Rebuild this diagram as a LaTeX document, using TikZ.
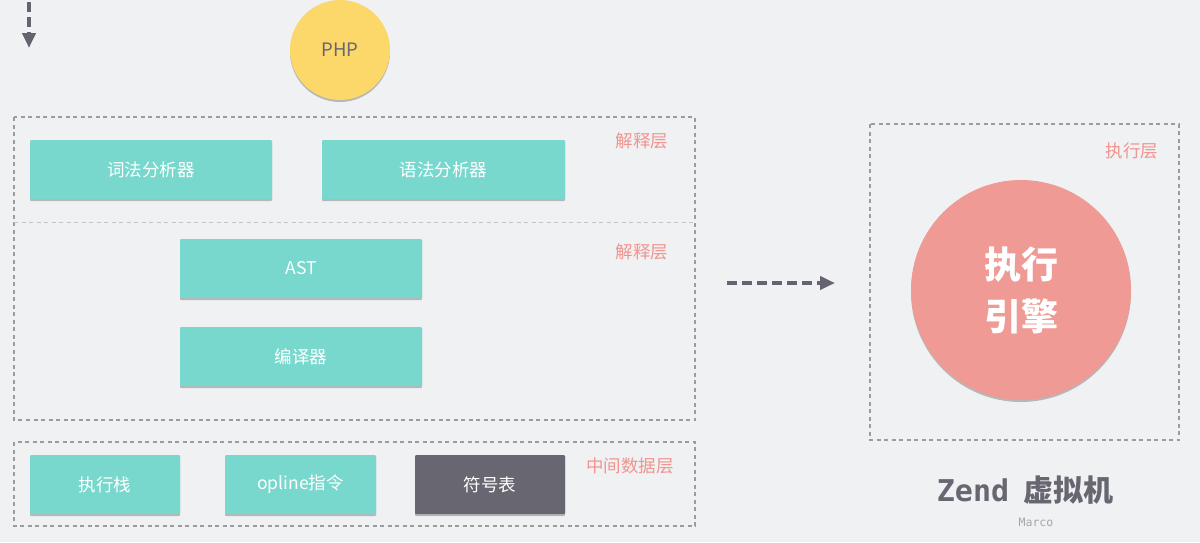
\documentclass[tikz,border=0pt]{standalone}
\usepackage{fontspec}
\setmainfont{Noto Sans CJK SC}
\newfontfamily\monofont{DejaVu Sans Mono}
\usetikzlibrary{shadows,arrows.meta}
\definecolor{bg}{HTML}{F0F1F3}
\definecolor{teal}{HTML}{78D8CD}
\definecolor{darkbox}{HTML}{686671}
\definecolor{lbl}{HTML}{F0948E}
\definecolor{phpy}{HTML}{FCD76A}
\definecolor{engine}{HTML}{EF9A94}
\definecolor{dashgray}{HTML}{9C9C9E}
\definecolor{arrowgray}{HTML}{666370}
\tikzset{
  boxbase/.style={rectangle, rounded corners=1pt, text=white, font=\fontsize{17.5}{20}\selectfont,
    drop shadow={shadow xshift=0pt, shadow yshift=-2pt, opacity=0.35, fill=black!70}},
  tealbox/.style={boxbase, fill=teal},
  darkboxst/.style={boxbase, fill=darkbox},
  layer/.style={draw=dashgray, line width=1.4pt, dash pattern=on 4pt off 3.5pt},
  layerlabel/.style={text=lbl, font=\fontsize{17.5}{20}\selectfont},
  flowarrow/.style={draw=arrowgray, line width=4.5pt, dash pattern=on 10pt off 5pt, -{Triangle[length=15pt,width=13pt]}},
}
\begin{document}
\begin{tikzpicture}[x=1pt,y=-1pt]
\fill[bg] (0,0) rectangle (1200,542);
\useasboundingbox (0,0) rectangle (1200,542);

% top-left arrow
\coordinate (ta) at (29,2);
\coordinate (tb) at (29,48);
\draw[flowarrow] (ta) -- (tb);

% PHP
\node[circle, fill=phpy, minimum size=100pt, inner sep=0pt, text=darkbox, font=\fontsize{18.5}{20}\selectfont,
  drop shadow={shadow xshift=0pt, shadow yshift=-2pt, opacity=0.35, fill=black!70}] (php) at (340,50) {PHP};

% interpret layer
\draw[layer] (14,117) rectangle (695,420);
\coordinate (sepL) at (14,222);
\coordinate (sepR) at (695,222);
\draw[draw=dashgray!60, line width=1pt, dash pattern=on 4pt off 3.5pt] (sepL) -- (sepR);
\node[layerlabel] (l1) at (642,141) {解释层};
\node[layerlabel] (l2) at (642,252) {解释层};

\node[tealbox, minimum width=242pt, minimum height=59pt] (lex) at (151,169.5) {词法分析器};
\node[tealbox, minimum width=243pt, minimum height=59pt] (syn) at (443.5,169.5) {语法分析器};
\node[tealbox, minimum width=242pt, minimum height=59pt] (ast) at (301,268.5) {AST};
\node[tealbox, minimum width=242pt, minimum height=59pt] (comp) at (301,356.5) {编译器};

% data layer
\draw[layer] (14,442) rectangle (695,526);
\node[layerlabel] (l3) at (630,466) {中间数据层};
\node[tealbox, minimum width=150pt, minimum height=59pt] (stack) at (105,484.5) {执行栈};
\node[tealbox, minimum width=151pt, minimum height=59pt] (opline) at (300.5,484.5) {opline指令};
\node[darkboxst, minimum width=150pt, minimum height=59pt] (sym) at (490,484.5) {符号表};

% arrow to engine
\coordinate (ha) at (727,283);
\coordinate (hb) at (835,283);
\draw[flowarrow] (ha) -- (hb);

% execution layer
\draw[layer] (870,124) rectangle (1179,440);
\node[layerlabel] (l4) at (1132,151) {执行层};
\node[circle, fill=engine, minimum size=220pt, inner sep=0pt, text=white, align=center,
  font=\fontsize{37}{52}\selectfont\bfseries,
  drop shadow={shadow xshift=0pt, shadow yshift=-2pt, opacity=0.35, fill=black!70}] (eng) at (1021,290) {执行\\引擎};

\node[text=darkbox, font=\fontsize{30}{34}\selectfont\bfseries] (zend) at (1025,490) {{\monofont Zend}\hspace{14pt}虚拟机};
\node[text=black!35, font=\monofont\fontsize{11.5}{13}\selectfont] (marco) at (1036,522) {Marco};
\end{tikzpicture}
\end{document}
